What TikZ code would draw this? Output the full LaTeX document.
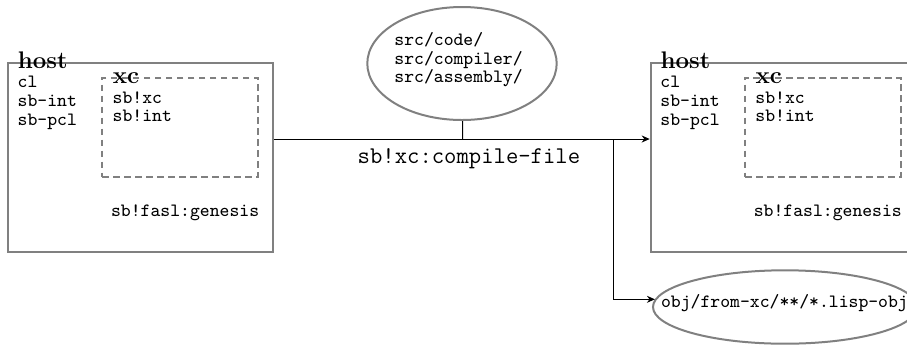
\documentclass[tikz,border=0pt]{standalone}
\usepackage{fontspec}
\usetikzlibrary{shapes.geometric,arrows.meta}
\tikzset{
  hostbox/.style={draw=gray, line width=1pt, minimum width=132.5pt, minimum height=94.2pt, inner sep=0pt},
  xcbox/.style={draw=gray, line width=1pt, dash pattern=on 3.3pt off 2.2pt, minimum width=78pt, minimum height=49.5pt, inner sep=0pt},
  dirblob/.style={draw=gray, line width=1pt, ellipse, inner sep=0pt},
  pkg/.style={font=\fontsize{9.4}{9.4}\selectfont\ttfamily, anchor=base west, inner sep=0pt},
  boxname/.style={font=\fontsize{12}{12}\selectfont\bfseries, anchor=base west, inner sep=0pt},
  flow/.style={line width=0.5pt, -{Stealth[length=4pt,width=3.5pt]}}
}
\begin{document}
\begin{tikzpicture}[x=0.5pt, y=-0.5pt]
\clip (0,0) rectangle (907,345);
% host de gauche
\node[hostbox] (hostL) at (140.5,157.5) {};
\node[xcbox] (xcL) at (180.3,127.2) {};
\node[boxname] (hostnameL) at (17.5,68.3) {host};
\node[pkg] (clL) at (17.3,87.3) {cl};
\node[pkg] (intL) at (17.3,106.5) {sb-int};
\node[pkg] (pclL) at (17.3,125) {sb-pcl};
\node[boxname] (xcnameL) at (112.5,83.3) {xc};
\node[pkg] (sbxcL) at (112.3,103.3) {sb!xc};
\node[pkg] (sbintL) at (112.3,121.7) {sb!int};
\node[pkg] (genesisL) at (110.7,216.7) {sb!fasl:genesis};
% host de droite
\node[hostbox] (hostR) at (783.2,157.5) {};
\node[xcbox] (xcR) at (823,127.2) {};
\node[boxname] (hostnameR) at (660.2,68.3) {host};
\node[pkg] (clR) at (660,87.3) {cl};
\node[pkg] (intR) at (660,106.5) {sb-int};
\node[pkg] (pclR) at (660,125) {sb-pcl};
\node[boxname] (xcnameR) at (755.2,83.3) {xc};
\node[pkg] (sbxcR) at (755,103.3) {sb!xc};
\node[pkg] (sbintR) at (755,121.7) {sb!int};
\node[pkg] (genesisR) at (753.4,216.7) {sb!fasl:genesis};
% sources
\node[dirblob, minimum width=94.7pt, minimum height=56.5pt] (src) at (462,63.5) {};
\node[pkg] (code) at (394,45) {src/code/};
\node[pkg] (compiler) at (394,64.3) {src/compiler/};
\node[pkg] (assembly) at (394,82.7) {src/assembly/};
% sortie
\node[dirblob, minimum width=132pt, minimum height=36.7pt] (obj) at (785,307) {};
\node[pkg] (objdir) at (660.7,307.5) {obj/from-xc/**/*.lisp-obj};
% compilation
\coordinate (tee) at (462.7,139);
\coordinate (fork) at (613.3,139);
\coordinate (objin) at ([shift={(2.9,-7.7)}]obj.west);
\node[pkg, font=\fontsize{12}{12}\selectfont\ttfamily] (compile) at (357.3,163.3) {sb!xc:compile-file};
\draw[flow] (hostL.east |- tee) -- (hostR.west |- tee);
\draw[line width=0.5pt] (src) -- (tee);
\draw[flow] (fork) |- (objin);
\end{tikzpicture}
\end{document}
